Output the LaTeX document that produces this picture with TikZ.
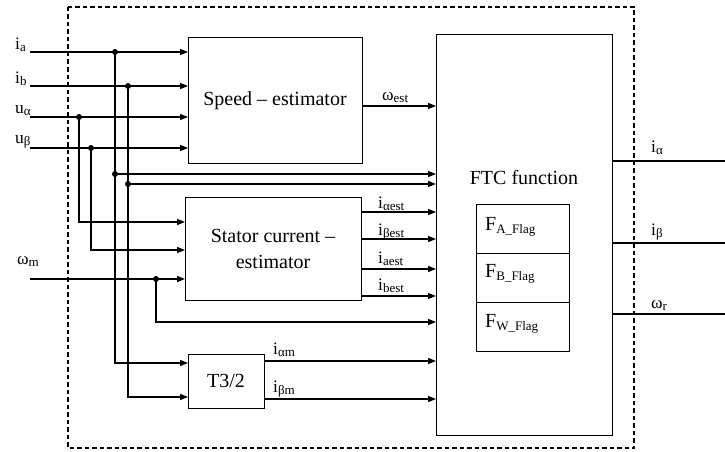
\documentclass[tikz,border=0pt]{standalone}
\usepackage{fontspec}
\setmainfont{Liberation Serif}
\usetikzlibrary{arrows.meta}
\newcommand\lsub[1]{\raisebox{-0.35ex}{\fontsize{13}{13}\selectfont #1}}
\begin{document}
\begin{tikzpicture}[x=1pt,y=-1pt,
  blk/.style={draw, line width=1pt, inner sep=0pt, outer sep=0pt, font=\fontsize{20}{26}\selectfont, align=center},
  wire/.style={line width=1.4pt},
  arr/.style={wire, -{Triangle[length=8pt,width=6pt]}},
  lbl/.style={font=\fontsize{17.5}{17.5}\selectfont, inner sep=0pt, anchor=base west},
  flbl/.style={font=\fontsize{20}{20}\selectfont, inner sep=0pt, anchor=base west},
  jdot/.style={circle, fill, inner sep=0pt, minimum size=6pt}]
\useasboundingbox (0,0) rectangle (725,452);
\draw[line width=1.3pt, dash pattern=on 4.5pt off 3pt] (68,7) rectangle (634,448);
% blocks
\node[blk, minimum width=174pt, minimum height=125pt] (speed) at (275,100.5) {Speed -- estimator};
\node[blk, minimum width=176pt, minimum height=103pt] (stator) at (273,248.5) {Stator current --\\estimator};
\node[blk, minimum width=76pt, minimum height=54pt] (t32) at (226,381) {T3/2};
\node[blk, minimum width=176pt, minimum height=400pt] (ftc) at (524,235) {};
\node[font=\fontsize{20}{20}\selectfont, inner sep=0pt] (ftclabel) at (524,178) {FTC function};
\node[blk, minimum width=93pt, minimum height=49pt] (fa) at (522.5,228.5) {};
\node[blk, minimum width=93pt, minimum height=49pt] (fb) at (522.5,277.5) {};
\node[blk, minimum width=93pt, minimum height=49pt] (fw) at (522.5,326.5) {};
\node[flbl] (fal) at (485,230) {F\lsub{A\_Flag}};
\node[flbl] (fbl) at (485,277) {F\lsub{B\_Flag}};
\node[flbl] (fwl) at (485,327) {F\lsub{W\_Flag}};
% input points
\coordinate (ia) at (30,52);
\coordinate (ib) at (30,86);
\coordinate (ua) at (30,117);
\coordinate (ub) at (30,148);
\coordinate (wm) at (30,279);
% junctions
\coordinate (ja) at (115,52);
\coordinate (jb) at (128,86);
\coordinate (jua) at (79,117);
\coordinate (jub) at (91,148);
\coordinate (jwm) at (156,279);
\coordinate (ja2) at (115,174);
\coordinate (jb2) at (128,184);
% inputs to speed estimator
\draw[arr] (ia) -- (ia -| speed.west);
\draw[arr] (ib) -- (ib -| speed.west);
\draw[arr] (ua) -- (ua -| speed.west);
\draw[arr] (ub) -- (ub -| speed.west);
\draw[arr] (wm) -- (wm -| stator.west);
% branches
\draw[arr] (ja) |- (t32.west |- 0,363);
\draw[arr] (jb) |- (t32.west |- 0,397);
\draw[arr] (ja2) -- (ftc.west |- ja2);
\draw[arr] (jb2) -- (ftc.west |- jb2);
\draw[arr] (jua) |- (stator.west |- 0,222);
\draw[arr] (jub) |- (stator.west |- 0,250);
\draw[arr] (jwm) |- (ftc.west |- 0,322);
% estimator outputs
\draw[arr] (speed.east |- 0,106) -- (ftc.west |- 0,106);
\draw[arr] (stator.east |- 0,212) -- (ftc.west |- 0,212);
\draw[arr] (stator.east |- 0,239) -- (ftc.west |- 0,239);
\draw[arr] (stator.east |- 0,269) -- (ftc.west |- 0,269);
\draw[arr] (stator.east |- 0,296) -- (ftc.west |- 0,296);
\draw[arr] (t32.east |- 0,361) -- (ftc.west |- 0,361);
\draw[arr] (t32.east |- 0,399) -- (ftc.west |- 0,399);
% FTC outputs
\coordinate (oa) at (725,161);
\coordinate (ob) at (725,243);
\coordinate (ow) at (725,314);
\draw[wire] (ftc.east |- oa) -- (oa);
\draw[wire] (ftc.east |- ob) -- (ob);
\draw[wire] (ftc.east |- ow) -- (ow);
% junction dots
\foreach \j in {ja,jb,jua,jub,jwm,ja2,jb2} \node[jdot] at (\j) {};
% labels
\node[lbl] (lia) at (15,49) {i\lsub{a}};
\node[lbl] (lib) at (15,83) {i\lsub{b}};
\node[lbl] (lua) at (15,113) {u\lsub{α}};
\node[lbl] (lub) at (15,143) {u\lsub{β}};
\node[lbl] (lwm) at (17,264) {ω\lsub{m}};
\node[lbl] (lwe) at (382,100) {ω\lsub{est}};
\node[lbl] (l1) at (378,208) {i\lsub{αest}};
\node[lbl] (l2) at (378,235) {i\lsub{βest}};
\node[lbl] (l3) at (378,263) {i\lsub{aest}};
\node[lbl] (l4) at (378,290) {i\lsub{best}};
\node[lbl] (l5) at (273,354) {i\lsub{αm}};
\node[lbl] (l6) at (273,392) {i\lsub{βm}};
\node[lbl] (r1) at (651,152) {i\lsub{α}};
\node[lbl] (r2) at (651,235) {i\lsub{β}};
\node[lbl] (r3) at (651,308) {ω\lsub{r}};
\end{tikzpicture}
\end{document}
